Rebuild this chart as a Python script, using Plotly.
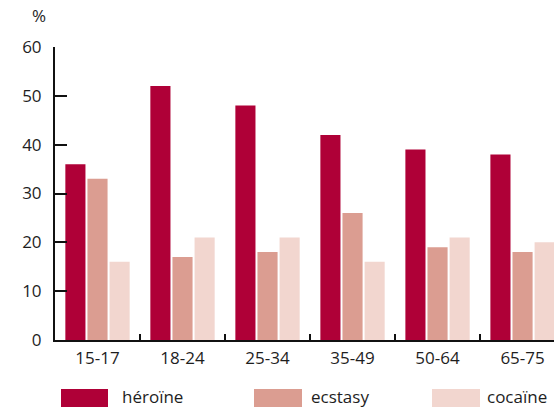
import plotly.graph_objects as go

categories = ["15-17", "18-24", "25-34", "35-49", "50-64", "65-75"]
series_names = ["héroïne", "ecstasy", "cocaïne"]
heroine = [36, 52, 48, 42, 39, 38]
ecstasy = [33, 17, 18, 26, 19, 18]
cocaine = [16, 21, 21, 16, 21, 20]
colors = ["#AF0037", "#DB9D91", "#F2D6CF"]
y_ticks = [0, 10, 20, 30, 40, 50, 60]

FONT = "Open Sans"
TXT = "#1e1e1e"

fig = go.Figure()
for name, vals, col in zip(series_names, [heroine, ecstasy, cocaine], colors):
    fig.add_trace(go.Bar(x=categories, y=vals, name=name, marker_color=col,
                         marker_line_width=0, showlegend=False))

# Custom legend (large swatches) at the bottom
leg_x = [(61, 108, 121), (254, 302, 310), (432, 480, 486)]
L, R, T, B = 55, 0, 47, 68
W, H = 554, 408
pw, ph = W - L - R, H - T - B
def px2x(p):
    return (p - L) / pw
def py2y(p):
    return (H - B - p) / ph
for (x0, x1, tx), name, col in zip(leg_x, series_names, colors):
    fig.add_shape(type="rect", xref="paper", yref="paper",
                  x0=px2x(x0), x1=px2x(x1), y0=py2y(407), y1=py2y(389),
                  fillcolor=col, line_width=0)
    fig.add_annotation(xref="paper", yref="paper", x=px2x(tx), y=py2y(396),
                       text=name, showarrow=False, xanchor="left", yanchor="middle",
                       borderpad=0, font=dict(family=FONT, size=17, color=TXT))

fig.add_annotation(xref="paper", yref="paper", x=px2x(39), y=py2y(16),
                   text="%", showarrow=False, xanchor="center", yanchor="middle",
                   font=dict(family=FONT, size=17, color=TXT))

fig.update_layout(
    width=W, height=H,
    margin=dict(l=L, r=R, t=T, b=B),
    paper_bgcolor="white", plot_bgcolor="white",
    barmode="group", bargap=0.22, bargroupgap=0.09,
    font=dict(family=FONT, size=17, color=TXT),
    xaxis=dict(range=[-0.5, 5.37], showline=True, linecolor="#111", linewidth=2,
               ticks="inside", tickson="boundaries", ticklen=6, tickwidth=2,
               tickcolor="#111", showgrid=False, ticklabelstandoff=2,
               tickfont=dict(family=FONT, size=17, color=TXT)),
    yaxis=dict(range=[0, 60], tickvals=y_ticks, showline=True, linecolor="#111",
               linewidth=2, ticks="inside", ticklen=12, tickwidth=2, tickcolor="#111",
               showgrid=False, zeroline=False, ticklabelstandoff=8,
               tickfont=dict(family=FONT, size=17, color=TXT)),
)

fig.write_html("out.html")
